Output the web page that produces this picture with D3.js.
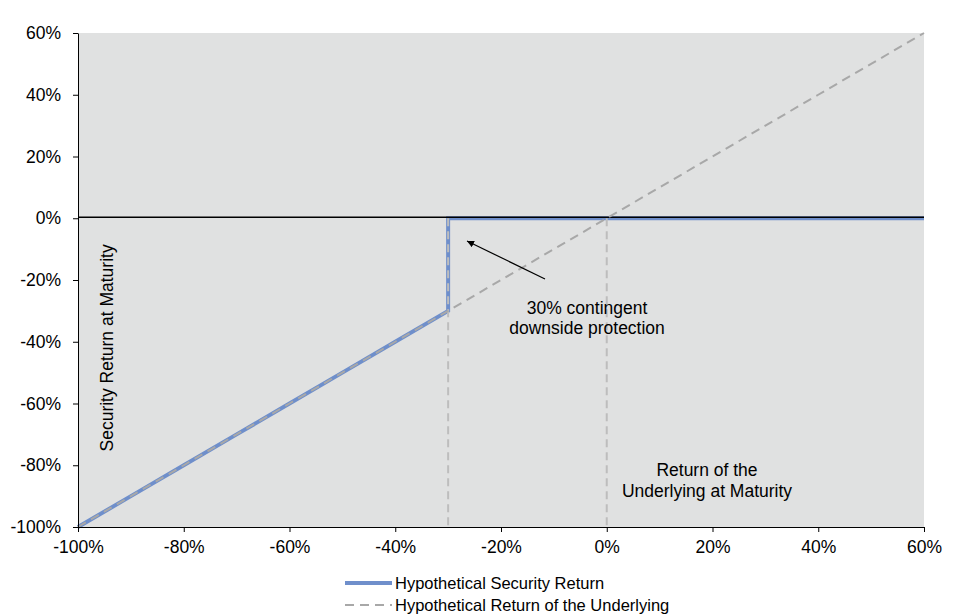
<!DOCTYPE html>
<html>
<head>
<meta charset="utf-8">
<script src="https://cdn.jsdelivr.net/npm/d3@7"></script>
<style>
  body { margin: 0; background: #fff; }
  text { font-family: "Liberation Sans", Arial, sans-serif; fill: #000; }
</style>
</head>
<body>
<script>
// Underlying return (x) and payoffs, in %
const underlyingX = [-100, -90, -80, -70, -60, -50, -40, -30, -20, -10, 0, 10, 20, 30, 40, 50, 60];
const underlyingY = [-100, -90, -80, -70, -60, -50, -40, -30, -20, -10, 0, 10, 20, 30, 40, 50, 60];
const securityX = [-100, -90, -80, -70, -60, -50, -40, -30, -30, -20, -10, 0, 10, 20, 30, 40, 50, 60];
const securityY = [-100, -90, -80, -70, -60, -50, -40, -30, 0, 0, 0, 0, 0, 0, 0, 0, 0, 0];
const refLines = [-30, 0];
const xTicks = [-100, -80, -60, -40, -20, 0, 20, 40, 60];
const yTicks = [-100, -80, -60, -40, -20, 0, 20, 40, 60];
const legendLabels = ["Hypothetical Security Return", "Hypothetical Return of the Underlying"];

const width = 976;
const height = 614;
const marginTop = 33;
const marginRight = 52;
const marginBottom = 87;
const marginLeft = 78;

const blue = "#6f8fcb";
const grey = "#a8a8a8";

const svg = d3.select("body").append("svg")
    .attr("width", width)
    .attr("height", height)
    .attr("viewBox", [0, 0, width, height]);

const x = d3.scaleLinear()
    .domain([-100, 60])
    .range([marginLeft, width - marginRight]);

const y = d3.scaleLinear()
    .domain([-100, 60])
    .range([height - marginBottom, marginTop]);

// plot background
svg.append("rect")
    .attr("x", x(-100))
    .attr("y", y(60))
    .attr("width", x(60) - x(-100))
    .attr("height", y(-100) - y(60))
    .attr("fill", "#e0e1e1");

const line = d3.line()
    .x(d => x(d[0]))
    .y(d => y(d[1]));

// security payoff
svg.append("path")
    .datum(d3.zip(securityX, securityY))
    .attr("fill", "none")
    .attr("stroke", blue)
    .attr("stroke-width", 4)
    .attr("d", line);

// zero line
svg.append("line")
    .attr("x1", x(-100))
    .attr("x2", x(60))
    .attr("y1", y(0) - 1)
    .attr("y2", y(0) - 1)
    .attr("stroke", "#000")
    .attr("stroke-width", 1.5);

// vertical reference lines
svg.selectAll(".ref")
    .data(refLines)
    .join("line")
    .attr("class", "ref")
    .attr("x1", d => x(d))
    .attr("x2", d => x(d))
    .attr("y1", y(0))
    .attr("y2", y(-100))
    .attr("stroke", "#bdbdbd")
    .attr("stroke-width", 2)
    .attr("stroke-dasharray", "8,5");

// underlying
svg.append("path")
    .datum(d3.zip(underlyingX, underlyingY))
    .attr("fill", "none")
    .attr("stroke", grey)
    .attr("stroke-width", 2)
    .attr("stroke-dasharray", "9,6")
    .attr("d", line);

const fmt = d => d + "%";

// axes
svg.append("g")
    .attr("transform", `translate(0,${y(-100)})`)
    .call(d3.axisBottom(x).tickValues(xTicks).tickFormat(fmt).tickSize(5).tickPadding(9).tickSizeOuter(0))
    .call(g => g.selectAll("text").attr("font-size", 17.5).attr("font-family", "Liberation Sans, Arial, sans-serif"))
    .call(g => g.selectAll("line, path").attr("stroke", "#000"));

svg.append("g")
    .attr("transform", `translate(${x(-100)},0)`)
    .call(d3.axisLeft(y).tickValues(yTicks).tickFormat(fmt).tickSize(5).tickPadding(12).tickSizeOuter(0))
    .call(g => g.selectAll("text").attr("font-size", 17.5).attr("font-family", "Liberation Sans, Arial, sans-serif"))
    .call(g => g.selectAll("line, path").attr("stroke", "#000"));

// axis titles inside the plot
svg.append("text")
    .attr("transform", `translate(113,${y(-42)}) rotate(-90)`)
    .attr("text-anchor", "middle")
    .attr("font-size", 17.5)
    .text("Security Return at Maturity");

const xt = svg.append("text")
    .attr("text-anchor", "middle")
    .attr("font-size", 17.5);
xt.append("tspan").attr("x", 707).attr("y", 476).text("Return of the");
xt.append("tspan").attr("x", 707).attr("y", 497).text("Underlying at Maturity");

// annotation
svg.append("defs").append("marker")
    .attr("id", "arrow")
    .attr("viewBox", "0 0 10 10")
    .attr("refX", 10)
    .attr("refY", 5)
    .attr("markerWidth", 7)
    .attr("markerHeight", 7)
    .attr("markerUnits", "userSpaceOnUse")
    .attr("orient", "auto")
    .append("path")
    .attr("d", "M0,0L10,5L0,10Z")
    .attr("fill", "#000");

svg.append("line")
    .attr("x1", 545)
    .attr("y1", 279)
    .attr("x2", 467)
    .attr("y2", 241)
    .attr("stroke", "#000")
    .attr("stroke-width", 1.2)
    .attr("marker-end", "url(#arrow)");

const an = svg.append("text")
    .attr("text-anchor", "middle")
    .attr("font-size", 17.5);
an.append("tspan").attr("x", 587).attr("y", 314).text("30% contingent");
an.append("tspan").attr("x", 587).attr("y", 334).text("downside protection");

// legend
const legend = svg.append("g");
legendLabels.forEach((label, i) => {
    const ly = 583 + i * 22;
    legend.append("line")
        .attr("x1", 345)
        .attr("x2", 392)
        .attr("y1", ly)
        .attr("y2", ly)
        .attr("stroke", i === 0 ? blue : grey)
        .attr("stroke-width", i === 0 ? 4 : 2)
        .attr("stroke-dasharray", i === 0 ? null : "9,6");
    legend.append("text")
        .attr("x", 395)
        .attr("y", ly + 5.5)
        .attr("font-size", 16.5)
        .text(label);
});
</script>
</body>
</html>
